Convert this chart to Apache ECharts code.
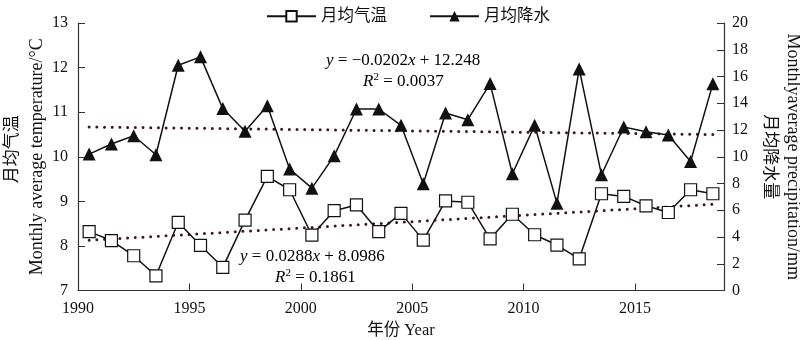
<!DOCTYPE html>
<html>
<head>
<meta charset="utf-8">
<script src="https://cdn.jsdelivr.net/npm/echarts@6/dist/echarts.min.js"></script>
<style>html,body{margin:0;padding:0;background:#fff}#c{width:800px;height:340px}</style>
</head>
<body>
<div id="c"></div>
<script>
const years = [1990,1991,1992,1993,1994,1995,1996,1997,1998,1999,2000,2001,2002,2003,2004,2005,2006,2007,2008,2009,2010,2011,2012,2013,2014,2015,2016,2017,2018];
const temperature = [8.32,8.12,7.78,7.33,8.53,8.01,7.52,8.58,9.56,9.26,8.24,8.79,8.92,8.32,8.73,8.13,9.01,8.98,8.16,8.71,8.25,8.02,7.71,9.17,9.11,8.90,8.75,9.26,9.17];
const precipitation = [10.2,10.95,11.57,10.15,16.84,17.47,13.6,11.9,13.82,9.08,7.65,10.07,13.57,13.57,12.35,7.98,13.27,12.77,15.47,8.73,12.35,6.53,16.57,8.65,12.22,11.87,11.62,9.65,15.45];
const tempTrend = {slope: 0.0288, intercept: 8.0986, r2: '0.1861'};
const precTrend = {slope: -0.0202, intercept: 12.248, r2: '0.0037'};
const legendNames = ['月均气温', '月均降水'];
const xAxisName = '年份 Year';
const leftAxisCn = '月均气温';
const leftAxisEn = 'Monthly average temperature/°C';
const rightAxisCn = '月均降水量';
const rightAxisEn = 'Monthlyaverage precipitation/mm';

const FONT = "'Liberation Serif', 'Noto Sans CJK SC', serif";
const pos = y => y + 0.5;
const tempData = years.map((y, i) => [pos(y), temperature[i]]);
const precData = years.map((y, i) => [pos(y), precipitation[i]]);
const n = years.length;
const trendLine = t => [[pos(years[0]), t.slope * 1 + t.intercept], [pos(years[n - 1]), t.slope * n + t.intercept]];

const chart = echarts.init(document.getElementById('c'));
const dotted = {color: '#3a1a1a', width: 3, type: [0, 7.7], cap: 'round'};
const eqRich = {
  i: {fontStyle: 'italic', fontFamily: FONT, fontSize: 17, color: '#111'},
  n: {fontFamily: FONT, fontSize: 17, color: '#111'},
  s: {fontFamily: FONT, fontSize: 11, color: '#111', verticalAlign: 'top', padding: [0, 0, 8, 0]}
};
function eq(t) {
  const sign = t.slope < 0 ? '−' : '';
  return '{i|y}{n| = ' + sign + Math.abs(t.slope) + '}{i|x}{n| + ' + t.intercept + '}';
}
function r2(t) { return '{i|R}{s|2}{n| = ' + t.r2 + '}'; }
const nameRich = {
  cnL: {fontFamily: FONT, fontSize: 17, color: '#111', lineHeight: 24, padding: [0, 0, 0, 15]},
  cn: {fontFamily: FONT, fontSize: 17, color: '#111', lineHeight: 24},
  en: {fontFamily: FONT, fontSize: 18, color: '#111', lineHeight: 24}
};

chart.setOption({
  animation: false,
  backgroundColor: '#fff',
  textStyle: {fontFamily: FONT},
  grid: {left: 78, right: 76, top: 23, bottom: 49.5, containLabel: false, outerBoundsMode: 'none'},
  legend: {
    data: legendNames, left: 261, top: 3, itemWidth: 49, itemHeight: 13, itemGap: 42,
    textStyle: {fontFamily: FONT, fontSize: 16.5, color: '#111'}
  },
  xAxis: {
    type: 'value', min: 1990, max: 2019, interval: 5,
    name: xAxisName, nameLocation: 'middle', nameGap: 32, nameMoveOverlap: false,
    nameTextStyle: {fontFamily: FONT, fontSize: 16.5, color: '#111'},
    axisLine: {lineStyle: {color: '#333', width: 1.2}},
    axisTick: {inside: true, length: 7, lineStyle: {color: '#333'}},
    axisLabel: {color: '#111', fontSize: 16, fontFamily: FONT, margin: 10, showMaxLabel: false,
      formatter: v => String(v)},
    splitLine: {show: false}
  },
  yAxis: [{
    type: 'value', min: 7, max: 13, interval: 1, position: 'left',
    name: '{cnL|' + leftAxisCn + '}\n{en|' + leftAxisEn + '}', nameLocation: 'middle', nameRotate: 90, nameGap: 29,
    nameMoveOverlap: false,
    nameTextStyle: {fontFamily: FONT, fontSize: 17, color: '#111', lineHeight: 24, rich: nameRich},
    axisLine: {show: true, lineStyle: {color: '#333', width: 1.2}},
    axisTick: {show: true, inside: true, length: 7, lineStyle: {color: '#333'}},
    axisLabel: {color: '#111', fontSize: 16, fontFamily: FONT, margin: 10},
    splitLine: {show: false}
  }, {
    type: 'value', min: 0, max: 20, interval: 2, position: 'right',
    name: '{en|' + rightAxisEn + '}\n{cn|' + rightAxisCn + '}', nameLocation: 'middle', nameRotate: -90, nameGap: 33,
    nameMoveOverlap: false,
    nameTextStyle: {fontFamily: FONT, fontSize: 17, color: '#111', lineHeight: 24, rich: nameRich},
    axisLine: {show: true, lineStyle: {color: '#333', width: 1.2}},
    axisTick: {show: true, inside: true, length: 7, lineStyle: {color: '#333'}},
    axisLabel: {color: '#111', fontSize: 16, fontFamily: FONT, margin: 8},
    splitLine: {show: false}
  }],
  series: [{
    name: legendNames[0], type: 'line', yAxisIndex: 0, data: tempData,
    symbol: 'rect', symbolSize: 12, z: 3,
    lineStyle: {color: '#111', width: 1.5},
    itemStyle: {color: '#fff', borderColor: '#111', borderWidth: 1.2}
  }, {
    name: legendNames[1], type: 'line', yAxisIndex: 1, data: precData,
    symbol: 'triangle', symbolSize: 13, z: 3,
    lineStyle: {color: '#111', width: 1.5},
    itemStyle: {color: '#111'}
  }, {
    name: 'tempTrend', type: 'line', yAxisIndex: 0, data: trendLine(tempTrend),
    symbol: 'none', lineStyle: dotted, z: 2, silent: true
  }, {
    name: 'precTrend', type: 'line', yAxisIndex: 1, data: trendLine(precTrend),
    symbol: 'none', lineStyle: dotted, z: 2, silent: true
  }],
  graphic: [
    {type: 'text', left: 326, top: 52, style: {text: eq(precTrend), rich: eqRich}},
    {type: 'text', left: 363, top: 72, style: {text: r2(precTrend), rich: eqRich}},
    {type: 'text', left: 240, top: 248, style: {text: eq(tempTrend), rich: eqRich}},
    {type: 'text', left: 275, top: 268, style: {text: r2(tempTrend), rich: eqRich}}
  ]
});
</script>
</body>
</html>
